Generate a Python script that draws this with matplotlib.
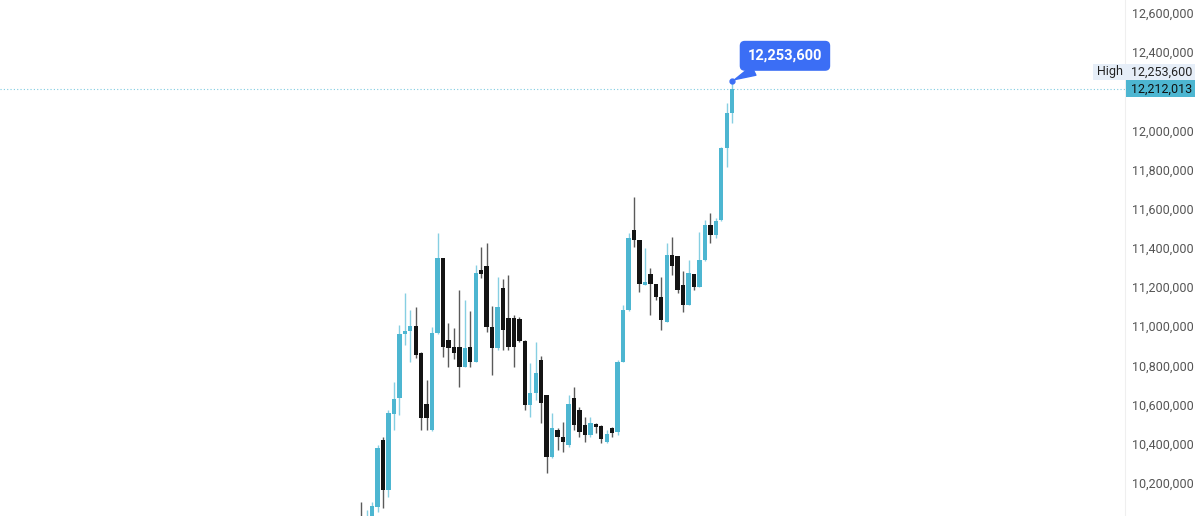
import numpy as np
import matplotlib
matplotlib.use('Agg')
import matplotlib.pyplot as plt
import matplotlib.transforms as mtransforms
from matplotlib.patches import Rectangle

plt.rcParams['font.family'] = ['Roboto', 'DejaVu Sans']

# daily candles, values in thousands
opens = [10020, 9990, 9990, 10075, 10420, 10165, 10550, 10635, 10960, 10975,
         11000, 10865, 10605, 10470, 10965, 11350, 10930, 10895, 10895, 10790,
         10895, 10815, 11285, 11305, 10995, 10890, 11195, 11040, 11040, 11035,
         10925, 10595, 10660, 10825, 10650, 10330, 10470, 10435, 10395, 10635,
         10570, 10495, 10445, 10500, 10490, 10410, 10480, 10460, 10815, 11085,
         11490, 11440, 11210, 11265, 11215, 11150, 11020, 11365, 11360, 11210,
         11110, 11265, 11200, 11340, 11515, 11465, 11540, 11910, 12090]
highs = [10100, 10060, 10100, 10395, 10435, 10570, 10715, 11005, 11170, 11085,
         11100, 10870, 10725, 10995, 11475, 11350, 11015, 10990, 11185, 11135,
         11080, 11315, 11405, 11425, 11105, 11250, 11240, 11260, 11055, 11045,
         10930, 10810, 10920, 10850, 10650, 10555, 10480, 10510, 10650, 10690,
         10585, 10535, 10535, 10505, 10495, 10470, 10485, 10825, 11110, 11475,
         11660, 11440, 11400, 11295, 11215, 11250, 11425, 11455, 11360, 11280,
         11340, 11265, 11480, 11540, 11580, 11555, 11915, 12140, 12253.6]
lows = [9950, 9960, 9970, 10050, 10070, 10125, 10470, 10545, 10905, 10815,
        10840, 10470, 10470, 10465, 10960, 10845, 10790, 10830, 10690, 10790,
        10790, 10815, 11245, 10970, 10750, 10880, 10880, 10880, 10790, 10920,
        10570, 10535, 10625, 10505, 10250, 10325, 10370, 10355, 10385, 10470,
        10435, 10410, 10435, 10455, 10405, 10405, 10435, 10445, 10815, 11080,
        11405, 11175, 11210, 11055, 11135, 10980, 11020, 11260, 11170, 11075,
        11110, 11185, 11200, 11335, 11425, 11450, 11535, 11815, 12040]
closes = [9980, 10010, 10080, 10380, 10165, 10555, 10630, 10960, 10975, 11000,
          10855, 10530, 10530, 10965, 11350, 10895, 10890, 10865, 10790, 10890,
          10815, 11270, 11265, 10995, 10890, 11100, 10980, 10895, 10895, 10925,
          10595, 10660, 10760, 10610, 10330, 10480, 10435, 10410, 10600, 10495,
          10460, 10445, 10505, 10485, 10425, 10450, 10455, 10815, 11085, 11450,
          11440, 11215, 11225, 11215, 11150, 11030, 11365, 11310, 11185, 11110,
          11270, 11200, 11340, 11515, 11465, 11535, 11910, 12090, 12212.013]

last_close = 12212013
high_value = 12253600
price_ticks = [10200000, 10400000, 10600000, 10800000, 11000000, 11200000,
               11400000, 11600000, 11800000, 12000000, 12400000, 12600000]

cyan = '#4db6d1'
cyan_wick = '#86cfe2'
dark = '#141414'
dark_wick = '#5a5a5a'
blue = '#3b6ef5'

o = np.array(opens) * 1000
h = np.array(highs) * 1000
l = np.array(lows) * 1000
c = np.array(closes) * 1000
idx = np.arange(len(o))
up = c >= o

W, H = 1200, 516
axis_w = 1125
fig = plt.figure(figsize=(W / 100, H / 100), dpi=100)
ax = fig.add_axes([0, 0, axis_w / W, 1])

ymin, ymax = 10030362, 12666400
ax.set_xlim(-66.2, 140.0)
ax.set_ylim(ymin, ymax)
ppx = (ymax - ymin) / H

ax.vlines(idx[up], l[up], h[up], color=cyan_wick, lw=1, zorder=2)
ax.vlines(idx[~up], l[~up], h[~up], color=dark_wick, lw=1, zorder=2)
ax.bar(idx[up], np.maximum(c - o, ppx)[up], bottom=o[up], width=0.8,
       color=cyan, lw=0, zorder=3)
ax.bar(idx[~up], np.maximum(o - c, ppx)[~up], bottom=c[~up], width=0.8,
       color=dark, lw=0, zorder=3)

# last price line
ax.axhline(last_close, color='#7fcbe0', lw=0.8, ls=(0, (1, 2)), zorder=1)

# high marker + callout
ax.plot(idx[-1], high_value, 'o', ms=3.5, color=blue, zorder=5)
ax.annotate(f'{high_value:,}', xy=(idx[-1], high_value), xytext=(38, 18),
            textcoords='offset points', ha='center', va='center',
            color='white', fontsize=10.5, fontweight='bold', zorder=6,
            bbox=dict(boxstyle='round,pad=0.5,rounding_size=0.3', fc=blue, ec=blue),
            arrowprops=dict(arrowstyle='wedge,tail_width=0.7,shrink_factor=0.5',
                            fc=blue, ec=blue, shrinkA=0, shrinkB=2))

# right price axis
ax.yaxis.tick_right()
ax.set_yticks(price_ticks)
ax.set_yticklabels([f'{v:,}' for v in price_ticks])
ax.tick_params(axis='y', length=0, pad=5, labelsize=9, labelcolor='#555555')
ax.set_xticks([])
for s in ['top', 'left', 'bottom']:
    ax.spines[s].set_visible(False)
ax.spines['right'].set_color('#efefef')

trans = mtransforms.blended_transform_factory(ax.transAxes, ax.transData)
fx = lambda px: px / axis_w

ax.add_patch(Rectangle((fx(1126), last_close - 8.5 * ppx), fx(69), 17 * ppx,
                       transform=trans, fc=cyan, ec='none', clip_on=False, zorder=7))
ax.text(fx(1131), last_close, f'{last_close:,}', transform=trans, va='center',
        ha='left', fontsize=9, color='#111111', zorder=8, clip_on=False)

hy = last_close + 17 * ppx
ax.add_patch(Rectangle((fx(1093), hy - 8 * ppx), fx(102), 16 * ppx,
                       transform=trans, fc='#e6eef8', ec='none', clip_on=False, zorder=7))
ax.text(fx(1097), hy, 'High', transform=trans, va='center', ha='left',
        fontsize=9, color='#222222', zorder=8, clip_on=False)
ax.text(fx(1131), hy, f'{high_value:,}', transform=trans, va='center', ha='left',
        fontsize=9, color='#222222', zorder=8, clip_on=False)

fig.savefig('out.png', dpi=100)
